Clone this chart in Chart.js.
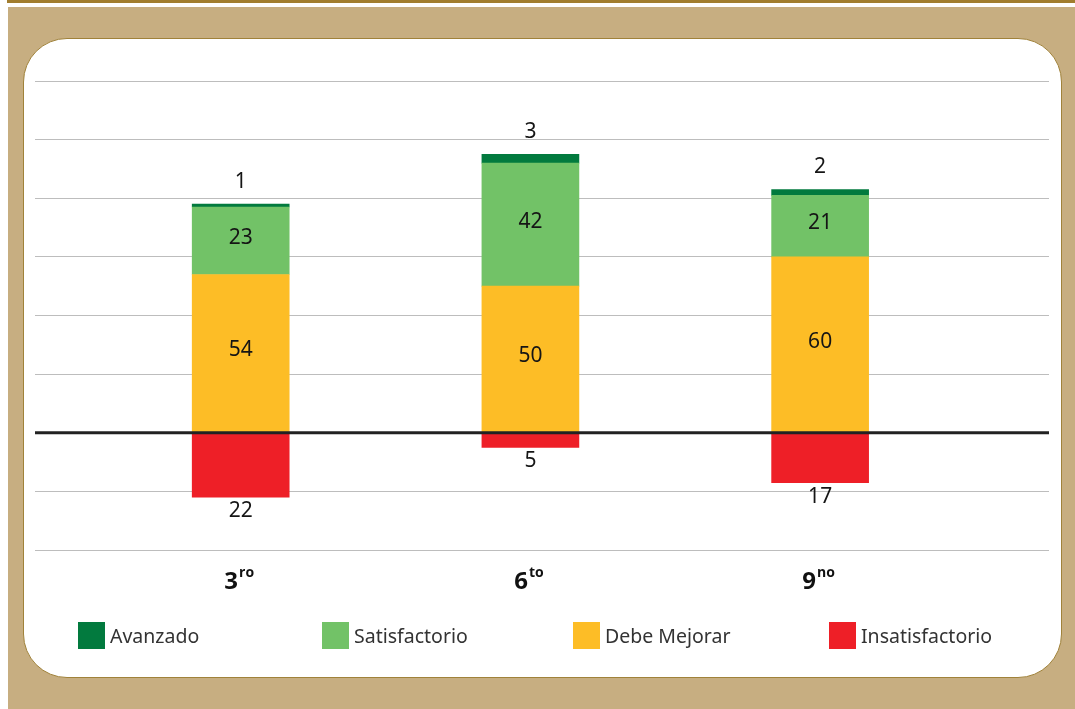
<!DOCTYPE html>
<html lang="es">
<head>
<meta charset="utf-8">
<script src="https://cdn.jsdelivr.net/npm/chart.js@4.4.1/dist/chart.umd.min.js"></script>
<style>
  html, body { margin: 0; padding: 0; background: #fff; }
  body { width: 1075px; height: 709px; position: relative; overflow: hidden; font-family: "Noto Sans", sans-serif; }
  .topline { position: absolute; left: 7px; right: 0; top: 0; height: 3px; background: #a17d2f; }
  .frame { position: absolute; left: 8px; right: 0; top: 7px; bottom: 0; background: #c7ae81; }
  .card { position: absolute; left: 23px; top: 38px; width: 1037px; height: 638px; background: #fff; border: 1px solid #a0823a; border-radius: 44px; }
  #chart { position: absolute; left: 0; top: 0; }
  .legend-item { position: absolute; top: 622px; height: 27px; display: flex; align-items: center; font-size: 19.5px; color: #333; white-space: nowrap; }
  .legend-item .box { width: 27px; height: 27px; margin-right: 5px; }
</style>
</head>
<body>
<div class="topline"></div>
<div class="frame"></div>
<div class="card"></div>
<canvas id="chart" width="1075" height="709"></canvas>
<div id="legend"></div>

<script>
// data
const grades = ['3', '6', '9'];
const gradeSuffixes = ['ro', 'to', 'no'];
const avanzado = [1, 3, 2];
const satisfactorio = [23, 42, 21];
const debeMejorar = [54, 50, 60];
const insatisfactorio = [-22, -5, -17];
const yMin = -40, yMax = 120, yStep = 20;

const legendOrder = ['Avanzado', 'Satisfactorio', 'Debe Mejorar', 'Insatisfactorio'];
const legendLeft = [78, 322, 573, 829];

const toPoints = arr => arr.map((v, i) => ({ x: i, y: v }));

const datasets = [
    { label: 'Debe Mejorar', data: toPoints(debeMejorar), backgroundColor: '#fdbd26', labelPos: 'center' },
    { label: 'Satisfactorio', data: toPoints(satisfactorio), backgroundColor: '#72c267', labelPos: 'center' },
    { label: 'Avanzado', data: toPoints(avanzado), backgroundColor: '#027a3e', labelPos: 'above' },
    { label: 'Insatisfactorio', data: toPoints(insatisfactorio), backgroundColor: '#ee1f27', labelPos: 'below' }
];

// zero line + value labels + grade labels
const overlay = {
    id: 'overlay',
    afterDatasetsDraw(chart) {
        const { ctx, chartArea, scales: { x, y } } = chart;
        const y0 = y.getPixelForValue(0);
        ctx.save();
        ctx.strokeStyle = '#222';
        ctx.lineWidth = 3;
        ctx.beginPath();
        ctx.moveTo(chartArea.left, y0);
        ctx.lineTo(chartArea.right, y0);
        ctx.stroke();

        ctx.fillStyle = '#151515';
        ctx.font = '21px "Noto Sans", sans-serif';
        ctx.textAlign = 'center';
        ctx.textBaseline = 'middle';
        chart.data.datasets.forEach((ds, di) => {
            chart.getDatasetMeta(di).data.forEach((bar, i) => {
                const v = Math.abs(ds.data[i].y);
                let ty;
                if (ds.labelPos === 'above') ty = bar.y - 22;
                else if (ds.labelPos === 'below') ty = bar.y + 14;
                else ty = (bar.y + bar.base) / 2 - 3;
                ctx.fillText(String(v), bar.x, ty);
            });
        });

        // x labels with superscript
        const ly = 582;
        grades.forEach((g, i) => {
            const cx = x.getPixelForValue(i) - 2;
            ctx.font = 'bold 24px "Open Sans", sans-serif';
            const w1 = ctx.measureText(g).width;
            ctx.font = 'bold 14px "Open Sans", sans-serif';
            const w2 = ctx.measureText(gradeSuffixes[i]).width;
            const start = cx - (w1 + w2) / 2;
            ctx.textAlign = 'left';
            ctx.fillStyle = '#111';
            ctx.font = 'bold 24px "Open Sans", sans-serif';
            ctx.fillText(g, start, ly);
            ctx.font = 'bold 14px "Open Sans", sans-serif';
            ctx.fillText(gradeSuffixes[i], start + w1 + 1, ly - 9);
        });
        ctx.restore();
    }
};

new Chart(document.getElementById('chart'), {
    type: 'bar',
    data: { datasets },
    options: {
        responsive: false,
        animation: false,
        barThickness: 97,
        layout: { padding: { left: 35, right: 26, top: 81, bottom: 159 } },
        plugins: { legend: { display: false }, tooltip: { enabled: false } },
        scales: {
            x: {
                type: 'linear',
                stacked: true,
                offset: false,
                min: -0.71,
                max: 2.79,
                display: false
            },
            y: {
                stacked: true,
                min: yMin,
                max: yMax,
                ticks: { display: false, stepSize: yStep },
                border: { display: false },
                grid: { color: '#bdbdbd', lineWidth: 1, drawTicks: false }
            }
        }
    },
    plugins: [overlay]
});

// legend
const legendEl = document.getElementById('legend');
legendOrder.forEach((name, i) => {
    const ds = datasets.find(d => d.label === name);
    const item = document.createElement('div');
    item.className = 'legend-item';
    item.style.left = legendLeft[i] + 'px';
    item.innerHTML = `<span class="box" style="background:${ds.backgroundColor}"></span><span>${name}</span>`;
    legendEl.appendChild(item);
});
</script>
</body>
</html>
